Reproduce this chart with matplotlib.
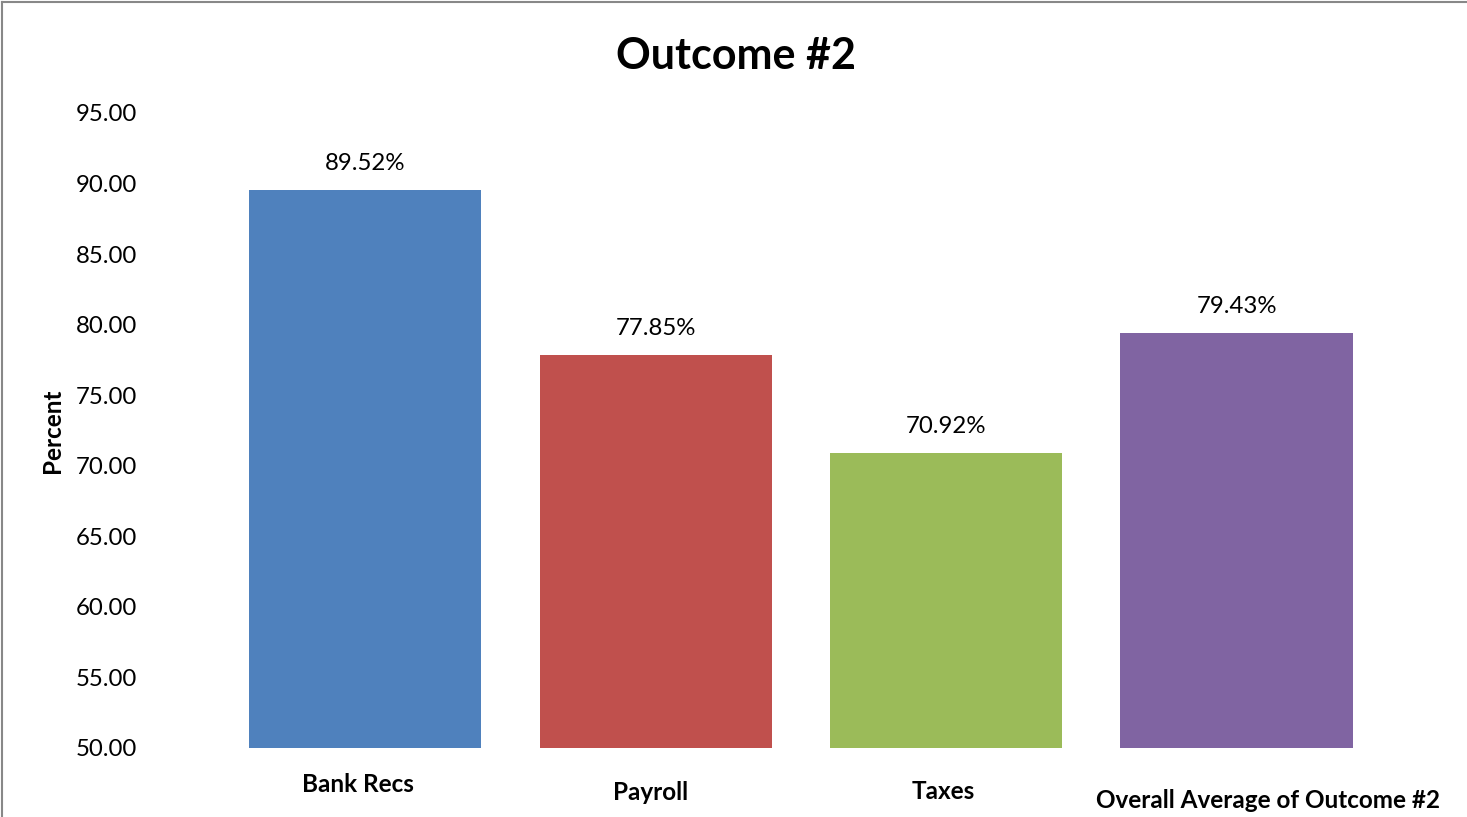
import matplotlib.pyplot as plt
from matplotlib.lines import Line2D
from matplotlib.transforms import blended_transform_factory, offset_copy

# ----------------------------------------------------------------------
# data
# ----------------------------------------------------------------------
categories = ['Bank Recs', 'Payroll', 'Taxes', 'Overall Average of Outcome #2']
values = [89.52, 77.85, 70.92, 79.43]
bar_colors = ['#4F81BD', '#C0504D', '#9BBB59', '#8064A2']
y_ticks = [50, 55, 60, 65, 70, 75, 80, 85, 90, 95]

# category label nudges in pixels (dx, dy) - labels sit unevenly in the original
label_nudge = [(-7, -8), (-5, -16), (-3, -15), (31, -24)]

plt.rcParams['font.family'] = ['Lato', 'DejaVu Sans']

fig = plt.figure(figsize=(14.67, 8.17), dpi=100)
ax = fig.add_axes([0.150, 0.0845, 0.792, 0.7772])

x = list(range(len(categories)))
ax.bar(x, [v - 50 for v in values], bottom=50, width=0.80, color=bar_colors)

for xi, v in zip(x, values):
    ax.annotate(f'{v:.2f}%', xy=(xi, v), xytext=(0, 19), textcoords='offset points',
                ha='center', va='center', fontsize=17.3)

ax.set_xlim(-0.5, 3.5)
ax.set_ylim(50, 95)
ax.set_yticks(y_ticks)
ax.set_yticklabels([f'{t:.2f}' for t in y_ticks], fontsize=17.3)
ax.tick_params(axis='y', length=0, pad=60)
ax.set_xticks([])

for s in ax.spines.values():
    s.set_visible(False)

# category labels under the bars
trans = blended_transform_factory(ax.transData, ax.transAxes)
for xi, name, (dx, dy) in zip(x, categories, label_nudge):
    t = offset_copy(trans, fig=fig, x=dx, y=dy, units='dots')
    ax.text(xi, -0.045, name, transform=t, ha='center', va='center',
            fontsize=17.5, fontweight='bold')

ax.set_ylabel('Percent', fontsize=17.5, fontweight='bold')
ax.yaxis.set_label_coords(-0.134, 0.5)

fig.text(0.502, 0.932, 'Outcome #2', ha='center', va='center', fontsize=31, fontweight='bold')

# thin gray frame of the chart area
fig.add_artist(Line2D([2 / 1467, 1], [1 - 2 / 817, 1 - 2 / 817], color='#888888', lw=1.5))
fig.add_artist(Line2D([2 / 1467, 2 / 1467], [0, 1 - 2 / 817], color='#888888', lw=1.5))

fig.savefig('out.png', dpi=100)
